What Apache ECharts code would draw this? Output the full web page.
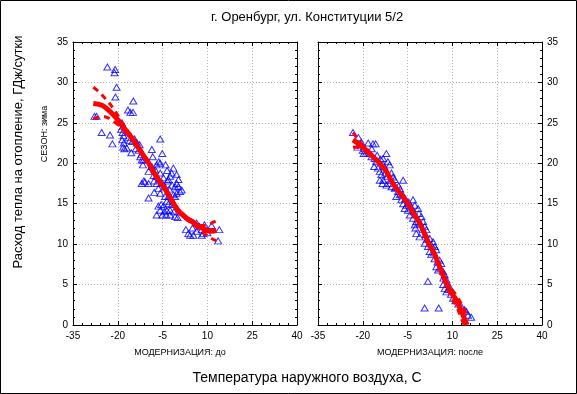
<!DOCTYPE html>
<html>
<head>
<meta charset="utf-8">
<script src="https://cdn.jsdelivr.net/npm/echarts@6/dist/echarts.min.js"></script>
<style>
html,body{margin:0;padding:0;background:#fff;}
#chart{width:577px;height:394px;}
</style>
</head>
<body>
<div id="chart"></div>
<script>
// ---- Text ----
const chartTitle = "г. Оренбург, ул. Конституции 5/2";
const yTitle = "Расход тепла на отопление, ГДж/сутки";
const rowLabel = "СЕЗОН: зима";
const panelLabels = ["МОДЕРНИЗАЦИЯ: до", "МОДЕРНИЗАЦИЯ: после"];
const xTitle = "Температура наружного воздуха, С";

// ---- Axes ----
const xMin = -35, xMax = 40, xStep = 15;
const yMin = 0, yMax = 35, yStep = 5;

// ---- Panel 1: МОДЕРНИЗАЦИЯ до (observations) ----
const tempBefore = [-23.5,-20.9,-21.1,-20.4,-20.8,-14.8,-16.6,-15.8,-14.9,-27.8,-27.1,-25.4,-22.6,-21.8,
  -18.6,-18.2,-18.9,-18.4,-18.1,-18.5,-18.0,-18.2,-17.8,-17.0,-16.4,-16.0,-15.5,-15.2,-14.4,-13.6,-12.7,-12.5,-12.0,-11.4,-13.0,-14.0,-12.1,-11.6,
  -8.6,-8.3,-5.8,-5.1,-7.0,-5.8,-7.5,-8.6,-9.7,-9.7,-10.9,-12.0,-11.3,-9.7,-7.0,-5.8,-4.7,-7.0,-6.4,-5.8,-4.2,-3.1,-2.5,-1.4,-0.3,0.3,-0.3,-0.8,0.3,0.8,1.4,
  -0.3,-1.4,-0.8,-3.1,-4.2,-3.6,-6.4,-4.7,-5.8,-3.6,-1.9,-2.5,-7.0,-5.1,-3.8,-2.5,-0.8,0.0,-4.4,
  -6.3,-7.9,-3.4,-2.0,-3.5,-8.0,-4.0,-2.8,-1.8,-5.2,-3.0,-5.5,-1.2,-7.8,
  2.8,4.2,5.3,6.4,6.4,7.3,8.1,8.6,8.1,11.4,14.0,13.6,3.6,9.0,10.0,5.0];
const heatBefore = [31.9,31.6,31.2,29.4,28.2,27.7,26.6,26.3,26.3,25.8,25.8,23.8,23.5,22.4,
  25.0,24.6,24.2,23.8,23.4,22.9,22.5,22.0,21.8,21.9,23.2,22.8,21.3,22.7,23.0,22.5,22.3,20.8,20.4,20.4,21.6,21.8,21.1,19.8,
  21.7,20.8,23.0,21.2,19.8,20.0,19.2,19.6,19.0,17.5,17.7,17.5,17.8,15.7,18.4,18.8,18.2,17.5,16.9,16.3,17.1,18.0,18.4,19.4,18.6,18.0,17.5,17.1,17.1,16.5,16.7,
  16.3,16.1,15.9,15.9,15.9,15.3,14.7,14.7,14.2,14.2,14.9,14.2,13.6,13.6,13.6,13.6,13.4,13.3,14.0,
  20.2,17.8,17.8,18.8,19.1,18.5,19.8,16.8,17.3,17.6,15.0,14.9,14.0,16.4,
  11.8,11.1,11.1,11.6,12.6,12.2,11.8,11.3,11.1,12.3,11.8,10.4,11.3,12.4,11.4,12.0];

// fitted curve and confidence band, panel 1
const fitTempBefore = [-28.2,-26.5,-24.9,-23.2,-21.5,-19.8,-18.2,-16.5,-14.8,-13.2,-11.5,-9.8,-8.1,-5.9,-3.6,-1.9,-0.3,1.4,3.1,4.7,6.4,8.1,9.8,11.4,13.0];
const fitHeatBefore = [27.4,27.3,27.1,26.6,26.0,25.3,24.5,23.7,22.9,22.0,21.0,20.1,19.0,17.7,16.5,15.4,14.4,13.7,13.2,12.8,12.4,12.0,11.7,11.6,11.7];
const upperBefore = [29.4,28.9,28.3,27.6,26.8,25.8,24.8,23.9,23.1,22.2,21.2,20.3,19.2,17.9,16.7,15.6,14.6,13.9,13.4,13.0,12.6,12.3,12.3,12.6,12.9];
const lowerBefore = [25.5,25.7,25.8,25.6,25.2,24.7,24.1,23.4,22.7,21.8,20.8,19.9,18.8,17.5,16.3,15.2,14.2,13.5,13.0,12.6,12.1,11.6,11.1,10.7,10.4];

// ---- Panel 2: МОДЕРНИЗАЦИЯ после (observations) ----
const tempAfter = [-23.3,-18.2,-16.6,-15.7,-19.4,-18.8,-19.7,-17.7,-17.1,-16.0,-12.1,-13.2,-11.6,-11.0,-14.9,-14.3,-13.8,-13.2,-14.3,-13.4,-12.1,
  -10.4,-9.9,-9.3,-6.5,-11.0,-10.4,-9.3,-8.2,-7.6,-8.8,-7.1,-6.5,-5.4,-6.0,-4.9,-3.2,-2.6,-1.5,-4.3,-3.2,-2.1,-2.6,-0.4,0.2,0.7,1.3,
  -2.4,-2.1,-1.0,2.4,3.5,4.1,4.6,0.7,1.8,2.4,2.9,5.7,6.3,4.6,5.2,6.9,7.4,8.0,6.9,7.4,8.0,9.1,1.8,0.7,5.4,13.0,14.7,16.3,
  -21.5,-20.5,-21.8,-20.0,-17.0,-15.2,-14.0,-12.8,-12.5,-15.5,-16.2,-11.8,-10.8,-9.0,-8.0,-7.5,-6.8,-5.8,-4.6,-3.8,-3.0,-1.2,-0.8,0.0,
  1.0,1.5,3.0,3.8,4.0,5.0,6.0,7.0,8.6,9.5,10.2,11.0,12.0,14.1,15.2];
const heatAfter = [23.8,22.5,22.4,22.4,21.8,21.4,21.2,21.2,20.8,20.6,21.2,20.6,20.2,19.8,19.4,19.0,18.6,17.9,17.9,17.5,17.3,
  18.8,18.3,18.0,17.9,17.5,17.1,16.9,16.5,16.1,15.9,15.5,15.0,14.8,14.4,14.2,15.5,14.8,14.4,13.6,13.2,12.8,12.4,13.4,12.8,12.2,11.8,
  12.0,11.3,10.9,10.7,10.3,9.7,9.3,10.1,9.7,9.1,8.7,8.0,7.6,7.2,6.8,6.6,6.2,5.6,5.0,4.5,4.1,4.7,5.4,2.1,2.1,2.3,1.65,0.95,
  23.2,22.6,22.0,21.6,21.8,21.0,20.5,19.6,18.8,20.2,19.6,18.4,17.9,17.0,17.2,16.8,16.2,15.6,15.2,14.6,14.0,13.8,12.6,11.8,
  11.2,10.6,9.9,8.9,8.2,7.8,7.0,5.8,4.4,3.8,3.3,3.0,2.6,1.9,1.2];

// fitted curve and confidence band, panel 2
const fitTempAfter = [-23.3,-21.0,-18.5,-16.6,-14.3,-12.0,-9.9,-7.5,-4.9,-3.0,-0.95,1.0,2.2,4.0,5.7,8.2,10.0,11.3,13.0,14.9];
const fitHeatAfter = [22.9,22.3,21.5,20.8,20.0,18.9,17.5,16.3,15.0,13.8,12.6,11.0,10.0,8.8,7.2,5.0,3.8,3.1,1.7,0.0];
const upperAfter = [23.8,22.7,21.7,20.9,20.1,19.0,17.6,16.4,15.1,13.9,12.7,11.1,10.1,8.9,7.4,5.3,4.3,3.7,2.6,1.2];
const lowerAfter = [22.0,21.9,21.3,20.7,19.9,18.8,17.4,16.2,14.9,13.7,12.5,10.9,9.9,8.7,7.0,4.7,3.2,2.4,0.8,-0.8];

const zip = (a, b) => a.map((v, i) => [v, b[i]]);

const FONT = "Liberation Sans, Arial, sans-serif";
const gridColor = "#b4b4b4";

function xAx(grid, pos, labels) {
  return {
    type: 'value', gridIndex: grid, position: pos, min: xMin, max: xMax, interval: xStep,
    axisLine: {show: true, onZero: false, lineStyle: {color: '#000', width: 1}},
    axisTick: {show: true, inside: true, length: 4, lineStyle: {color: '#000'}},
    minorTick: {show: true, splitNumber: 5, length: 2, lineStyle: {color: '#000'}},
    splitLine: {show: labels, lineStyle: {color: gridColor, type: [1, 2]}},
    axisLabel: {show: labels, fontSize: 10, color: '#000', fontFamily: FONT, margin: 6}
  };
}
function yAx(grid, pos, labels, split) {
  return {
    type: 'value', gridIndex: grid, position: pos, min: yMin, max: yMax, interval: yStep,
    axisLine: {show: true, onZero: false, lineStyle: {color: '#000', width: 1}},
    axisTick: {show: true, inside: true, length: 4, lineStyle: {color: '#000'}},
    minorTick: {show: true, splitNumber: 5, length: 2, lineStyle: {color: '#000'}},
    splitLine: {show: split, lineStyle: {color: gridColor, type: [1, 2]}},
    axisLabel: {show: labels, fontSize: 10, color: '#000', fontFamily: FONT, margin: 5}
  };
}

function scatter(xi, yi, xs, ys) {
  return {
    type: 'scatter', xAxisIndex: xi, yAxisIndex: yi, data: zip(xs, ys),
    symbol: 'triangle', symbolSize: [7, 6], silent: true, z: 2,
    itemStyle: {color: 'rgba(255,255,255,0)', borderColor: '#0000ff', borderWidth: 1}
  };
}
function fitLine(xi, yi, xs, ys, dashed) {
  return {
    type: 'line', xAxisIndex: xi, yAxisIndex: yi, data: zip(xs, ys),
    showSymbol: false, smooth: 0.35, silent: true, z: dashed ? 3 : 4, clip: true,
    lineStyle: dashed ? {color: '#ff0000', width: 3, type: [6, 5]} : {color: '#ff0000', width: 5}
  };
}

const chart = echarts.init(document.getElementById('chart'), null, {renderer: 'canvas'});
chart.setOption({
  animation: false,
  backgroundColor: '#fff',
  grid: [
    {left: 73, top: 42, width: 224, height: 283},
    {left: 318, top: 42, width: 224, height: 283}
  ],
  xAxis: [xAx(0, 'bottom', true), xAx(0, 'top', false), xAx(1, 'bottom', true), xAx(1, 'top', false)],
  yAxis: [yAx(0, 'left', true, true), yAx(0, 'right', false, false), yAx(1, 'right', true, true), yAx(1, 'left', false, false)],
  series: [
    scatter(0, 0, tempBefore, heatBefore),
    fitLine(0, 0, fitTempBefore, upperBefore, true),
    fitLine(0, 0, fitTempBefore, lowerBefore, true),
    fitLine(0, 0, fitTempBefore, fitHeatBefore, false),
    scatter(2, 2, tempAfter, heatAfter),
    fitLine(2, 2, fitTempAfter, upperAfter, true),
    fitLine(2, 2, fitTempAfter, lowerAfter, true),
    fitLine(2, 2, fitTempAfter, fitHeatAfter, false)
  ],
  graphic: [
    {type: 'rect', shape: {x: 0.5, y: 0.5, width: 576, height: 393}, style: {fill: 'none', stroke: '#000', lineWidth: 1}, silent: true},
    {type: 'text', x: 307, y: 17, style: {text: chartTitle, fontSize: 13, fontFamily: FONT, fill: '#000', textAlign: 'center', textVerticalAlign: 'middle'}},
    {type: 'text', x: 18, y: 152, rotation: Math.PI / 2, style: {text: yTitle, fontSize: 13, fontFamily: FONT, fill: '#000', textAlign: 'center', textVerticalAlign: 'middle'}},
    {type: 'text', x: 45, y: 134, rotation: Math.PI / 2, style: {text: rowLabel, fontSize: 9, fontFamily: FONT, fill: '#000', textAlign: 'center', textVerticalAlign: 'middle'}},
    {type: 'text', x: 180, y: 353, style: {text: panelLabels[0], fontSize: 9, fontFamily: FONT, fill: '#000', textAlign: 'center', textVerticalAlign: 'middle'}},
    {type: 'text', x: 430, y: 353, style: {text: panelLabels[1], fontSize: 9, fontFamily: FONT, fill: '#000', textAlign: 'center', textVerticalAlign: 'middle'}},
    {type: 'text', x: 307, y: 378, style: {text: xTitle, fontSize: 14, fontFamily: FONT, fill: '#000', textAlign: 'center', textVerticalAlign: 'middle'}}
  ]
});
</script>
</body>
</html>
